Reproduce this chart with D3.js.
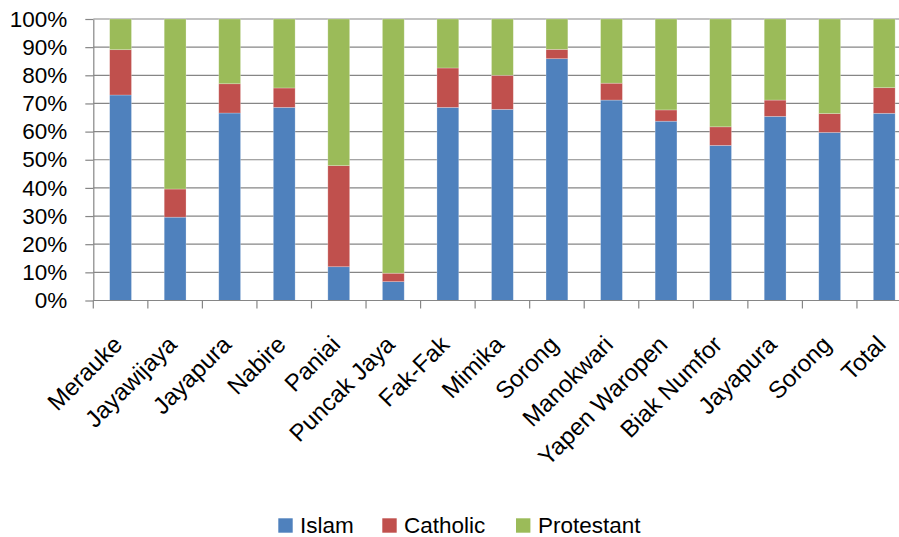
<!DOCTYPE html>
<html>
<head>
<meta charset="utf-8">
<script src="https://cdn.jsdelivr.net/npm/d3@7/dist/d3.min.js"></script>
<style>
  html, body { margin: 0; padding: 0; background: #fff; }
  svg { display: block; }
  text { font-family: "Liberation Sans", Arial, sans-serif; fill: #000; }
</style>
</head>
<body>
<svg id="chart" width="899" height="537"></svg>
<script>
const categories = ["Merauke","Jayawijaya","Jayapura","Nabire","Paniai","Puncak Jaya","Fak-Fak","Mimika","Sorong","Manokwari","Yapen Waropen","Biak Numfor","Jayapura","Sorong","Total"];
const islam      = [73.0, 29.6, 66.6, 68.6, 12.0, 6.7, 68.6, 67.9, 85.9, 71.2, 63.7, 55.1, 65.4, 59.7, 66.5];
const catholic   = [16.1, 10.0, 10.4, 6.9, 35.9, 3.0, 14.0, 12.1, 3.3, 6.0, 4.0, 6.6, 5.8, 6.7, 9.1];
const protestant = islam.map((v, i) => +(100 - v - catholic[i]).toFixed(1));
const seriesNames = ["Islam", "Catholic", "Protestant"];
const seriesColors = ["#4F81BD", "#C0504D", "#9BBB59"];
const yTicks = [0, 0.1, 0.2, 0.3, 0.4, 0.5, 0.6, 0.7, 0.8, 0.9, 1.0];

(function () {
const svg = d3.select("#chart");
const mLeft = 93.3, mRight = 911.5, mTop = 19, mBottom = 300.5;
const gridColor = "#868686";

const rows = categories.map((c, i) => ({
  key: i, name: c,
  Islam: islam[i] / 100, Catholic: catholic[i] / 100, Protestant: protestant[i] / 100
}));

const x = d3.scaleBand().domain(rows.map(d => d.key)).range([mLeft, mRight]).paddingInner(0).paddingOuter(0);
const y = d3.scaleLinear().domain([0, 1]).range([mBottom, mTop]);

// gridlines
svg.append("g").selectAll("line").data(yTicks.slice(1)).join("line")
  .attr("x1", mLeft).attr("x2", mRight)
  .attr("y1", d => y(d)).attr("y2", d => y(d))
  .attr("stroke", gridColor).attr("stroke-width", 1.2);

// bars
const stack = d3.stack().keys(seriesNames);
const stacked = stack(rows);
const bw = x.bandwidth() * 0.4;
svg.append("g").selectAll("g").data(stacked).join("g")
  .attr("fill", (d, i) => seriesColors[i])
  .selectAll("rect").data(d => d).join("rect")
  .attr("x", d => x(d.data.key) + (x.bandwidth() - bw) / 2)
  .attr("width", bw)
  .attr("y", d => y(d[1]))
  .attr("height", d => y(d[0]) - y(d[1]))
  .attr("stroke", "#ffffff").attr("stroke-opacity", 0.35).attr("stroke-width", 0.7);

// y axis
const yAxis = d3.axisLeft(y).tickValues(yTicks).tickFormat(d3.format(".0%")).tickSize(8).tickSizeOuter(0).tickPadding(18);
const gy = svg.append("g").attr("transform", `translate(${mLeft},0)`).call(yAxis);
gy.select(".domain").attr("stroke", gridColor).attr("stroke-width", 1.2);
gy.selectAll(".tick line").attr("stroke", gridColor).attr("stroke-width", 1.2);
gy.selectAll(".tick text").attr("font-size", "22.5px").attr("font-family", "Liberation Sans, Arial, sans-serif").attr("fill", "#000");

// x axis line and boundary ticks
svg.append("line").attr("x1", mLeft).attr("x2", mRight).attr("y1", mBottom).attr("y2", mBottom)
  .attr("stroke", gridColor).attr("stroke-width", 1.2);
const bounds = rows.map(d => x(d.key)).concat([x.range()[1]]);
svg.append("g").selectAll("line").data(bounds).join("line")
  .attr("x1", d => d).attr("x2", d => d).attr("y1", mBottom).attr("y2", mBottom + 8)
  .attr("stroke", gridColor).attr("stroke-width", 1.2);

// x labels
svg.append("g").selectAll("text").data(rows).join("text")
  .attr("transform", d => `translate(${x(d.key) + x.bandwidth() / 2 + 3},346) rotate(-45)`)
  .attr("text-anchor", "end")
  .attr("font-size", "24px")
  .text(d => d.name);

// legend
const legendItems = [
  { name: "Islam", sx: 278.3, tx: 300 },
  { name: "Catholic", sx: 382.3, tx: 404 },
  { name: "Protestant", sx: 516, tx: 538 }
];
const lg = svg.append("g");
lg.selectAll("rect").data(legendItems).join("rect")
  .attr("x", d => d.sx).attr("y", 518.3).attr("width", 14.4).attr("height", 14.4)
  .attr("fill", (d, i) => seriesColors[i]);
lg.selectAll("text").data(legendItems).join("text")
  .attr("x", d => d.tx).attr("y", 533.3)
  .attr("font-size", "22.5px")
  .text(d => d.name);
})();
</script>
</body>
</html>
